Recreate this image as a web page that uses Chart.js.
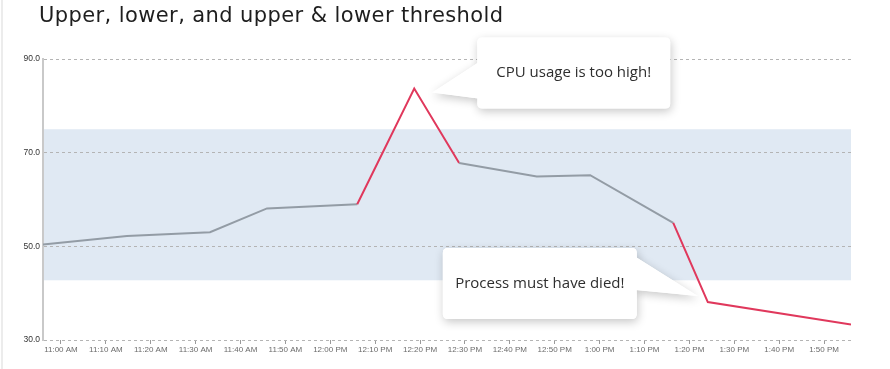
<!DOCTYPE html>
<html>
<head>
<meta charset="utf-8">
<script src="https://cdn.jsdelivr.net/npm/chart.js@4.4.1/dist/chart.umd.min.js"></script>
<style>
  body { margin: 0; background: #fff; }
  #wrap { position: relative; width: 890px; height: 369px; }
  #edge { position: absolute; left: 1px; top: 0; width: 2px; height: 369px; background: #ececec; }
  #title { position: absolute; left: 39px; top: 3px; font-family: 'DejaVu Sans', sans-serif; font-size: 21px; letter-spacing: 0.4px; color: #1e1e1e; white-space: nowrap; }
  canvas { display: block; }
</style>
</head>
<body>
<div id="wrap">
  <div id="edge"></div>
  <canvas id="chart" width="890" height="369"></canvas>
  <div id="title">Upper, lower, and upper &amp; lower threshold</div>
</div>
<script>
// tiempos en minutos desde medianoche (11:00 = 660)
const times = [656, 674.7, 693.2, 705.9, 726, 738.7, 748.7, 766, 777.9, 796.4, 804.1, 836];
const cpu = [50.4, 52.2, 53.0, 58.1, 59.0, 83.7, 67.8, 64.9, 65.2, 55.0, 38.1, 33.3];
const upperThreshold = 75;
const lowerThreshold = 42.75;
const yTicks = [30, 50, 70, 90];
const xTicks = [660, 670, 680, 690, 700, 710, 720, 730, 740, 750, 760, 770, 780, 790, 800, 810, 820, 830];
const notes = [
  { index: 5, text: 'CPU usage is too high!' },
  { index: 10, text: 'Process must have died!' }
];

const GRAY = '#939ca5';
const RED = '#e0385c';

function fuera(v) { return v > upperThreshold || v < lowerThreshold; }

function fmtHora(v) {
  const h = Math.floor(v / 60), m = Math.round(v % 60);
  const h12 = ((h + 11) % 12) + 1;
  return h12 + ':' + String(m).padStart(2, '0') + ' ' + (h < 12 ? 'AM' : 'PM');
}

// banda entre umbrales, por debajo de la grilla
const bandPlugin = {
  id: 'band',
  beforeDraw(chart) {
    const { ctx, chartArea, scales } = chart;
    const yTop = scales.y.getPixelForValue(upperThreshold);
    const yBot = scales.y.getPixelForValue(lowerThreshold);
    ctx.save();
    ctx.fillStyle = '#e0e9f3';
    ctx.fillRect(chartArea.left + 1, yTop, chartArea.right - chartArea.left - 1, yBot - yTop);
    ctx.restore();
  }
};

function roundRect(ctx, x, y, w, h, r) {
  ctx.beginPath();
  ctx.moveTo(x + r, y);
  ctx.lineTo(x + w - r, y);
  ctx.quadraticCurveTo(x + w, y, x + w, y + r);
  ctx.lineTo(x + w, y + h - r);
  ctx.quadraticCurveTo(x + w, y + h, x + w - r, y + h);
  ctx.lineTo(x + r, y + h);
  ctx.quadraticCurveTo(x, y + h, x, y + h - r);
  ctx.lineTo(x, y + r);
  ctx.quadraticCurveTo(x, y, x + r, y);
  ctx.closePath();
}

function globo(ctx, box, tri) {
  roundRect(ctx, box.x, box.y, box.w, box.h, 5);
  ctx.fill();
  ctx.beginPath();
  ctx.moveTo(tri[0][0], tri[0][1]);
  ctx.lineTo(tri[1][0], tri[1][1]);
  ctx.lineTo(tri[2][0], tri[2][1]);
  ctx.closePath();
  ctx.fill();
}

// globos de anotacion anclados a los puntos
const calloutPlugin = {
  id: 'callouts',
  afterDatasetsDraw(chart) {
    const { ctx, scales } = chart;
    notes.forEach((n, i) => {
      const px = scales.x.getPixelForValue(times[n.index]);
      const py = scales.y.getPixelForValue(cpu[n.index]);
      let box, tri;
      if (i === 0) {
        box = { x: px + 63, y: py - 51, w: 193, h: 71 };
        tri = [[box.x + 1, py - 26], [px + 18, py + 4], [box.x + 1, py + 10]];
      } else {
        box = { x: px - 265, y: py - 54, w: 194, h: 71 };
        tri = [[box.x + box.w - 1, py - 45], [px - 10, py - 6], [box.x + box.w - 1, py - 12]];
      }
      ctx.save();
      ctx.fillStyle = '#fff';
      ctx.shadowColor = 'rgba(0,0,0,0.22)';
      ctx.shadowBlur = 10;
      ctx.shadowOffsetX = 1;
      ctx.shadowOffsetY = 3;
      globo(ctx, box, tri);
      ctx.shadowColor = 'transparent';
      globo(ctx, box, tri);
      ctx.fillStyle = '#2e2e2e';
      ctx.font = '15px "Open Sans", sans-serif';
      ctx.textAlign = 'center';
      ctx.textBaseline = 'middle';
      ctx.fillText(n.text, box.x + box.w / 2, box.y + box.h / 2);
      ctx.restore();
    });
  }
};

new Chart(document.getElementById('chart'), {
  type: 'line',
  data: {
    datasets: [{
      data: times.map((t, i) => ({ x: t, y: cpu[i] })),
      borderWidth: 2,
      borderColor: GRAY,
      pointRadius: 0,
      tension: 0,
      segment: {
        borderColor: c => (fuera(c.p0.parsed.y) || fuera(c.p1.parsed.y)) ? RED : GRAY
      }
    }]
  },
  options: {
    responsive: false,
    animation: false,
    layout: { padding: { left: 0, right: 39, top: 59, bottom: 0 } },
    plugins: { legend: { display: false }, tooltip: { enabled: false } },
    scales: {
      x: {
        type: 'linear',
        min: times[0],
        max: times[times.length - 1],
        afterBuildTicks: axis => { axis.ticks = xTicks.map(v => ({ value: v })); },
        afterFit: s => { s.height = 29; },
        ticks: {
          autoSkip: false,
          maxRotation: 0,
          minRotation: 0,
          padding: 1,
          color: '#6b6b6b',
          font: { family: 'Liberation Sans, Arial, sans-serif', size: 8 },
          callback: v => fmtHora(v)
        },
        grid: { display: true, drawOnChartArea: false, drawTicks: true, tickLength: 4, color: '#9a9a9a' },
        border: { display: false }
      },
      y: {
        min: 30,
        max: 90,
        afterBuildTicks: axis => { axis.ticks = yTicks.map(v => ({ value: v })); },
        afterFit: s => { s.width = 43; },
        ticks: {
          padding: 3,
          color: '#333',
          font: { family: 'Liberation Sans, Arial, sans-serif', size: 8.5 },
          callback: v => Number(v).toFixed(1)
        },
        grid: { drawTicks: false, color: '#b4b4b4', lineWidth: 1 },
        border: { display: true, color: '#c9c9c9', width: 2, dash: [3, 3] }
      }
    }
  },
  plugins: [bandPlugin, calloutPlugin]
});
</script>
</body>
</html>
